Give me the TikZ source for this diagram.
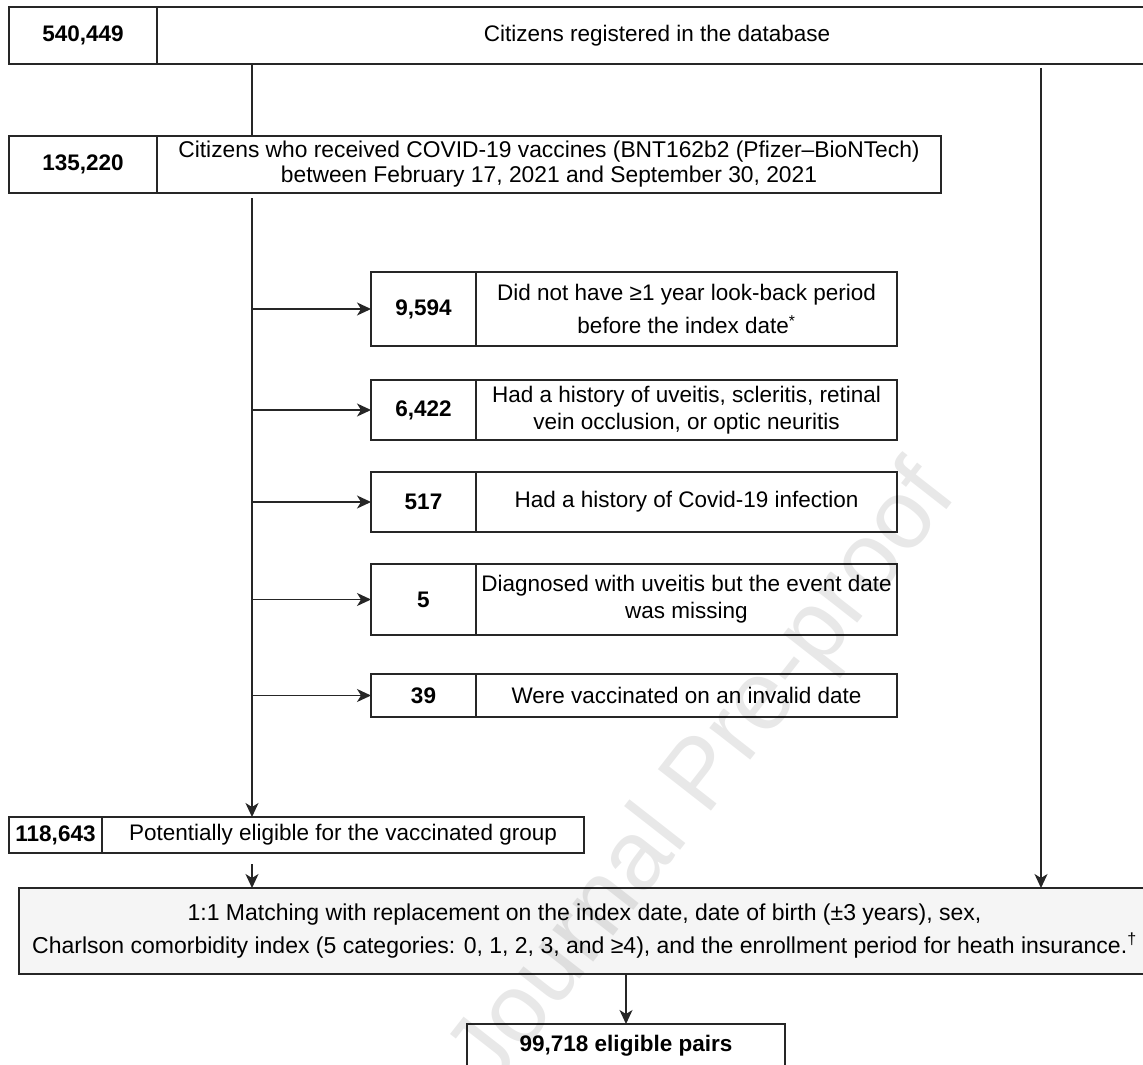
\documentclass[tikz,border=0pt]{standalone}
\usepackage{fontspec}
\setmainfont{Liberation Sans}
\usetikzlibrary{arrows.meta,calc}
\begin{document}
\begin{tikzpicture}[x=1pt,y=-1pt,
  box/.style={draw=black!85, line width=1.1pt, rectangle, inner sep=0pt, outer sep=0pt, anchor=north west, align=center},
  num/.style={box, font=\fontsize{22.5}{27}\selectfont\bfseries},
  txt/.style={box, font=\fontsize{22.5}{27}\selectfont},
  conn/.style={draw=black!85, line width=1.3pt},
  arr/.style={conn, -{Stealth[length=14pt,width=13pt,inset=4pt]}},
]
\useasboundingbox (0,0) rectangle (1143,1065);
\fill[white] (0,0) rectangle (1143,1065);

% top box
\node[num, minimum width=148pt, minimum height=57pt] (n1) at (9,7) {540,449};
\node[txt, minimum width=1000pt, minimum height=57pt] (t1) at (157,7) {Citizens registered in the database};

% second box
\node[num, minimum width=148pt, minimum height=57pt] (n2) at (9,136) {135,220};
\node[txt, minimum width=784pt, minimum height=57pt, font=\fontsize{22.8}{25}\selectfont] (t2) at (157,136) {Citizens who received COVID-19 vaccines (BNT162b2 (Pfizer–BioNTech)\\between February 17, 2021 and September 30, 2021};

% exclusion boxes
\node[num, minimum width=105pt, minimum height=74pt] (a1) at (371,272) {9,594};
\node[txt, minimum width=421pt, minimum height=74pt, font=\fontsize{22.5}{33}\selectfont] (b1) at (476,272) {Did not have ≥1 year look-back period\\before the index date\textsuperscript{*}};

\node[num, minimum width=105pt, minimum height=60pt] (a2) at (371,380) {6,422};
\node[txt, minimum width=421pt, minimum height=60pt] (b2) at (476,380) {Had a history of uveitis, scleritis, retinal\\vein occlusion, or optic neuritis};

\node[num, minimum width=105pt, minimum height=60pt] (a3) at (371,472) {517};
\node[txt, minimum width=421pt, minimum height=60pt] (b3) at (476,472) {Had a history of Covid-19 infection};

\node[num, minimum width=105pt, minimum height=71pt] (a4) at (371,564) {5};
\node[txt, minimum width=421pt, minimum height=71pt] (b4) at (476,564) {Diagnosed with uveitis but the event date\\was missing};

\node[num, minimum width=105pt, minimum height=43pt] (a5) at (371,674) {39};
\node[txt, minimum width=421pt, minimum height=43pt] (b5) at (476,674) {Were vaccinated on an invalid date};

% eligible box
\node[num, minimum width=93pt, minimum height=36pt] (n3) at (9,817) {118,643};
\node[txt, minimum width=482pt, minimum height=36pt] (t3) at (102,817) {Potentially eligible for the vaccinated group};

% matching box
\node[txt, fill=black!4, minimum width=1131pt, minimum height=86pt, font=\fontsize{23}{33}\selectfont] (m) at (19,888) {1:1 Matching with replacement on the index date, date of birth (±3 years), sex,\\Charlson comorbidity index (5 categories: 0, 1, 2, 3, and ≥4), and the enrollment period for heath insurance.\textsuperscript{†}};

% final box
\node[num, minimum width=318pt, minimum height=44pt] (f) at (467,1024) {99,718 eligible pairs};

% connectors
\coordinate (vx) at (252,0);
\coordinate (rx) at (1041,0);
\draw[conn] (t1.south -| vx) -- (t2.north -| vx);
\draw[arr] ([yshift=-5pt]t2.south -| vx) -- (t3.north -| vx);
\foreach \k in {1,...,5}{
  \draw[arr] (a\k.west -| vx) -- (a\k.west);
}
\draw[arr] ([yshift=-4pt]t1.south -| rx) -- (m.north -| rx);
\draw[arr] ([yshift=-11pt]t3.south -| vx) -- (m.north -| vx);
\draw[arr] (m.south -| f.north) -- (f.north);

% watermark
\node[rotate=52, font=\fontsize{98}{98}\selectfont, text=black, text opacity=0.09] (wm) at (705,778) {Journal Pre-proof};
\end{tikzpicture}
\end{document}
